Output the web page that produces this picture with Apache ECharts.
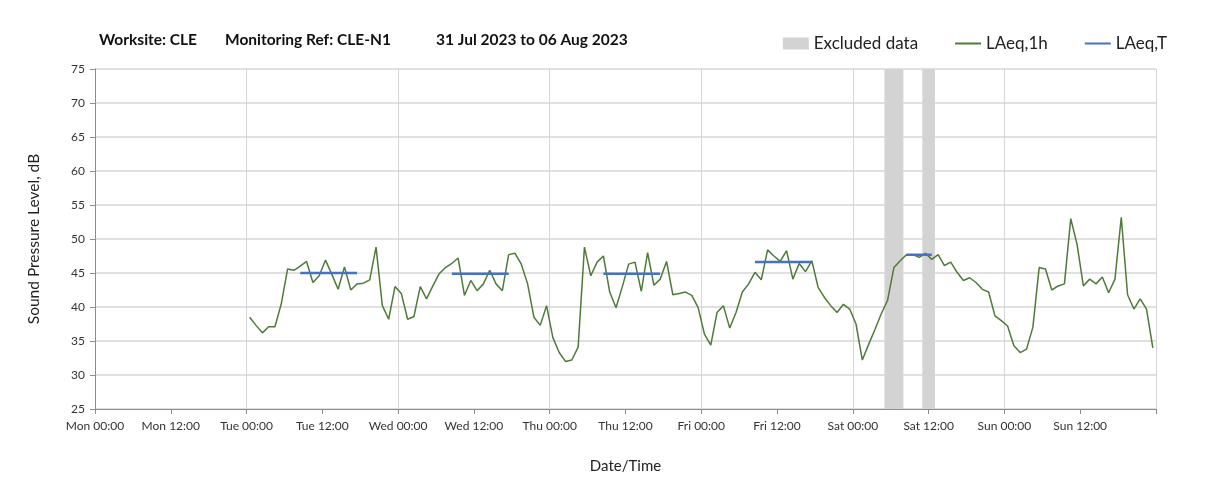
<!DOCTYPE html>
<html>
<head>
<meta charset="utf-8">
<title>CLE-N1 noise monitoring</title>
<script src="https://cdn.jsdelivr.net/npm/echarts@6/dist/echarts.min.js"></script>
<style>
  html, body { margin: 0; padding: 0; background: #fff; }
  #chart { width: 1212px; height: 502px; }
</style>
</head>
<body>
<div id="chart"></div>
<script>
// x values are hours from Mon 31 Jul 2023 00:00
var dayNames = ['Mon', 'Tue', 'Wed', 'Thu', 'Fri', 'Sat', 'Sun', 'Mon'];
var firstHour = 24.5; // first hourly value, Tue 00:30

// LAeq,1h, one value per hour
var tueLevels = [38.5, 37.3, 36.2, 37.1, 37.1, 40.5, 45.6, 45.4, 46.0, 46.7, 43.6, 44.6, 46.9, 44.8, 42.6, 45.9, 42.5, 43.4, 43.5, 44.0, 48.8, 40.2, 38.2, 43.0];
var wedLevels = [42.0, 38.2, 38.6, 43.0, 41.2, 43.1, 44.9, 45.8, 46.4, 47.2, 41.7, 43.9, 42.4, 43.4, 45.4, 43.4, 42.4, 47.7, 47.9, 46.3, 43.4, 38.5, 37.3, 40.2];
var thuLevels = [35.5, 33.3, 32.0, 32.2, 34.1, 48.8, 44.6, 46.6, 47.5, 42.2, 39.9, 43.0, 46.3, 46.6, 42.3, 48.0, 43.2, 44.1, 46.7, 41.8, 42.0, 42.2, 41.7, 39.9];
var friLevels = [36.0, 34.4, 39.2, 40.2, 36.9, 39.2, 42.2, 43.4, 45.1, 44.0, 48.4, 47.5, 46.7, 48.3, 44.1, 46.4, 45.2, 46.8, 42.9, 41.4, 40.2, 39.2, 40.4, 39.7];
var satLevels = [37.5, 32.2, 34.5, 36.7, 39.0, 41.0, 45.8, 46.8, 47.7, 47.7, 47.3, 47.9, 47.0, 47.7, 46.1, 46.6, 45.1, 43.9, 44.3, 43.6, 42.6, 42.2, 38.7, 38.0];
var sunLevels = [37.2, 34.3, 33.3, 33.8, 37.0, 45.8, 45.6, 42.5, 43.1, 43.4, 53.0, 49.2, 43.1, 44.1, 43.4, 44.4, 42.1, 44.1, 53.2, 41.8, 39.7, 41.2, 39.7, 34.0];

// LAeq,T per daytime period
var periodStart = [32.5, 56.5, 80.5, 104.5, 128.5];
var periodEnd = [41.5, 65.5, 89.5, 113.5, 132.5];
var laeqT = [45.0, 44.9, 44.9, 46.6, 47.7];

// excluded periods (Sat)
var excludedStart = [125, 131];
var excludedEnd = [128, 133];

var hourly = [].concat(tueLevels, wedLevels, thuLevels, friLevels, satLevels, sunLevels);
var hourlyData = hourly.map(function (v, i) { return [firstHour + i, v]; });

var periodData = [];
laeqT.forEach(function (v, i) {
  periodData.push([periodStart[i], v], [periodEnd[i], v], [periodEnd[i] + 0.5, '-']);
});

var excludedAreas = excludedStart.map(function (s, i) {
  return [{ xAxis: s }, { xAxis: excludedEnd[i] }];
});

var font = 'Lato, "Open Sans", sans-serif';
var gridColor = '#d6d6d6';
var titleStyle = { fontSize: 15.5, fontWeight: 'bold', color: '#111', fontFamily: font };

var chart = echarts.init(document.getElementById('chart'));
var option = {
  backgroundColor: '#fff',
  textStyle: { fontFamily: font, color: '#222' },
  title: [
    { text: 'Worksite: CLE', left: 94, top: 27, textStyle: titleStyle },
    { text: 'Monitoring Ref: CLE-N1', left: 220, top: 27, textStyle: titleStyle },
    { text: '31 Jul 2023 to 06 Aug 2023', left: 431, top: 27, textStyle: titleStyle }
  ],
  legend: {
    right: 40,
    top: 30,
    itemWidth: 26,
    itemHeight: 12,
    itemGap: 36,
    textStyle: { fontSize: 17, color: '#222', fontFamily: font },
    data: [
      { name: 'Excluded data', icon: 'rect' },
      { name: 'LAeq,1h', itemStyle: { opacity: 0 } },
      { name: 'LAeq,T', itemStyle: { opacity: 0 } }
    ]
  },
  grid: { left: 95, right: 56, top: 69, bottom: 93 },
  xAxis: [
    {
      type: 'value',
      min: 0,
      max: 168,
      interval: 12,
      name: 'Date/Time',
      nameLocation: 'middle',
      nameGap: 50,
      nameTextStyle: { fontSize: 15, color: '#222' },
      axisLine: { lineStyle: { color: '#8c8c8c' } },
      axisTick: { length: 5, lineStyle: { color: '#8c8c8c' } },
      axisLabel: {
        fontSize: 12,
        color: '#333',
        margin: 11,
        formatter: function (v) {
          if (v >= 168) return '';
          return dayNames[Math.floor(v / 24)] + ' ' + (v % 24 === 0 ? '00:00' : '12:00');
        }
      },
      splitLine: { show: false }
    },
    {
      // day gridlines only
      type: 'value',
      min: 0,
      max: 168,
      interval: 24,
      position: 'bottom',
      axisLine: { show: false },
      axisTick: { show: false },
      axisLabel: { show: false },
      splitLine: { show: true, lineStyle: { color: gridColor, width: 1 } }
    }
  ],
  yAxis: {
    type: 'value',
    min: 25,
    max: 75,
    interval: 5,
    name: 'Sound Pressure Level, dB',
    nameLocation: 'middle',
    nameGap: 53,
    nameTextStyle: { fontSize: 15.5, color: '#222' },
    axisLine: { show: true, lineStyle: { color: '#8c8c8c' } },
    axisTick: { show: true, length: 5, lineStyle: { color: '#8c8c8c' } },
    axisLabel: { fontSize: 12, color: '#333', margin: 10 },
    splitLine: { show: true, lineStyle: { color: gridColor, width: 1.5 } }
  },
  series: [
    {
      name: 'Excluded data',
      type: 'line',
      data: [],
      z: 1,
      itemStyle: { color: '#d3d3d3' },
      lineStyle: { color: '#d3d3d3' },
      markArea: {
        silent: true,
        itemStyle: { color: '#d3d3d3' },
        data: excludedAreas
      }
    },
    {
      name: 'LAeq,1h',
      type: 'line',
      data: hourlyData,
      z: 3,
      symbol: 'none',
      color: '#4f7a38',
      lineStyle: { color: '#4f7a38', width: 1.5 }
    },
    {
      name: 'LAeq,T',
      type: 'line',
      data: periodData,
      z: 4,
      symbol: 'none',
      connectNulls: false,
      color: '#4472c4',
      lineStyle: { color: '#4472c4', width: 2.5 }
    }
  ]
};
chart.setOption(option);
</script>
</body>
</html>
